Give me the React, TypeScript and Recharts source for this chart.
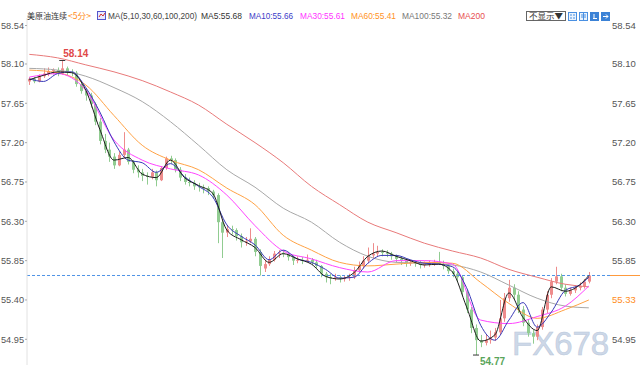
import { Bar, ComposedChart, Line, ReferenceDot, ReferenceLine, XAxis, YAxis } from "recharts";

// open, high, low, close per 5-minute bar
const candles: [number, number, number, number][] = [
  [57.9, 57.95, 57.86, 57.93], [57.93, 57.95, 57.88, 57.9], [57.9, 57.98, 57.89, 57.96], [57.96, 58.05, 57.94, 57.99],
  [57.99, 58.06, 57.96, 58.02], [58.02, 58.05, 57.98, 58.03], [58.03, 58.06, 57.96, 57.99], [57.99, 58.14, 57.98, 58.05],
  [58.05, 58.07, 57.97, 58.01], [58.01, 58.04, 57.96, 58.0], [58.0, 58.02, 57.84, 57.87], [57.87, 57.9, 57.76, 57.79],
  [57.79, 57.82, 57.68, 57.74], [57.74, 57.77, 57.6, 57.64], [57.64, 57.66, 57.4, 57.44], [57.44, 57.48, 57.18, 57.22],
  [57.22, 57.3, 57.08, 57.12], [57.12, 57.2, 56.98, 57.04], [57.04, 57.08, 56.9, 56.94], [56.94, 57.1, 56.93, 57.06],
  [57.06, 57.32, 57.02, 57.12], [57.12, 57.14, 56.95, 56.98], [56.98, 57.0, 56.85, 56.89], [56.89, 56.94, 56.8, 56.86],
  [56.86, 56.9, 56.76, 56.82], [56.82, 56.86, 56.72, 56.81], [56.81, 56.9, 56.78, 56.86], [56.86, 56.88, 56.7, 56.77],
  [56.77, 56.93, 56.76, 56.91], [56.91, 57.04, 56.89, 57.02], [57.02, 57.05, 56.96, 57.0], [57.0, 57.02, 56.86, 56.89],
  [56.89, 56.92, 56.76, 56.8], [56.8, 56.84, 56.72, 56.75], [56.75, 56.8, 56.7, 56.74], [56.74, 56.77, 56.66, 56.7],
  [56.7, 56.74, 56.64, 56.69], [56.69, 56.72, 56.62, 56.68], [56.68, 56.7, 56.6, 56.64], [56.64, 56.66, 56.56, 56.6],
  [56.6, 56.62, 56.05, 56.29], [56.29, 56.32, 55.88, 56.17], [56.17, 56.26, 56.12, 56.21], [56.21, 56.25, 56.15, 56.2],
  [56.2, 56.22, 56.08, 56.13], [56.13, 56.16, 56.0, 56.06], [56.06, 56.12, 56.02, 56.07], [56.07, 56.22, 56.05, 56.1],
  [56.1, 56.12, 55.9, 55.95], [55.95, 55.98, 55.68, 55.79], [55.76, 55.86, 55.72, 55.81], [55.81, 55.9, 55.79, 55.86],
  [55.86, 55.96, 55.84, 55.93], [55.93, 55.97, 55.88, 55.94], [55.94, 55.97, 55.89, 55.93], [55.93, 55.95, 55.85, 55.89],
  [55.89, 55.91, 55.8, 55.85], [55.85, 55.9, 55.82, 55.86], [55.86, 55.89, 55.81, 55.85], [55.85, 55.92, 55.83, 55.86],
  [55.86, 55.88, 55.8, 55.83], [55.83, 55.86, 55.76, 55.79], [55.79, 55.8, 55.66, 55.7], [55.7, 55.72, 55.6, 55.66],
  [55.66, 55.7, 55.58, 55.65], [55.65, 55.7, 55.62, 55.66], [55.66, 55.68, 55.6, 55.64], [55.64, 55.68, 55.61, 55.65],
  [55.65, 55.7, 55.62, 55.66], [55.66, 55.78, 55.64, 55.74], [55.74, 55.84, 55.72, 55.79], [55.79, 55.9, 55.76, 55.85],
  [55.85, 56.0, 55.82, 55.91], [55.91, 56.05, 55.88, 55.93], [55.93, 56.02, 55.9, 55.95], [55.95, 55.98, 55.9, 55.94],
  [55.94, 55.97, 55.89, 55.93], [55.93, 55.95, 55.86, 55.9], [55.9, 55.92, 55.83, 55.87], [55.87, 55.9, 55.8, 55.85],
  [55.85, 55.88, 55.78, 55.82], [55.82, 55.86, 55.79, 55.83], [55.83, 55.85, 55.78, 55.82], [55.82, 55.85, 55.76, 55.8],
  [55.8, 55.84, 55.77, 55.81], [55.81, 55.85, 55.78, 55.82], [55.82, 55.86, 55.79, 55.83], [55.83, 55.95, 55.8, 55.81],
  [55.81, 55.85, 55.75, 55.79], [55.79, 55.81, 55.7, 55.73], [55.73, 55.76, 55.66, 55.7], [55.7, 55.73, 55.6, 55.66],
  [55.66, 55.68, 55.45, 55.49], [55.49, 55.52, 55.25, 55.29], [55.29, 55.32, 55.02, 55.08], [55.08, 55.12, 54.77, 54.94],
  [54.94, 55.0, 54.86, 54.91], [54.91, 55.0, 54.88, 54.94], [54.94, 55.05, 54.9, 54.97], [54.97, 55.08, 54.93, 55.03],
  [55.03, 55.4, 55.0, 55.19], [55.19, 55.48, 55.15, 55.42], [55.42, 55.63, 55.38, 55.54], [55.54, 55.58, 55.4, 55.46],
  [55.46, 55.5, 55.25, 55.29], [55.29, 55.33, 55.1, 55.14], [55.14, 55.18, 54.98, 55.02], [55.02, 55.06, 54.9, 54.98],
  [54.98, 55.12, 54.94, 55.09], [55.09, 55.32, 55.06, 55.29], [55.29, 55.5, 55.25, 55.46], [55.46, 55.65, 55.42, 55.61],
  [55.61, 55.78, 55.58, 55.67], [55.67, 55.7, 55.5, 55.54], [55.54, 55.58, 55.44, 55.47], [55.47, 55.54, 55.45, 55.51],
  [55.51, 55.57, 55.48, 55.54], [55.54, 55.6, 55.51, 55.56], [55.56, 55.64, 55.53, 55.61], [55.61, 55.72, 55.59, 55.68],
];

const fastIdx = [0, 3, 6, 9, 12, 15, 18, 21, 24, 27, 30, 33, 36, 39, 42, 45, 48, 51, 54, 57, 60, 63, 66, 69, 72, 75, 78, 81, 84, 87, 90, 93, 96, 99, 102, 105, 108, 111, 114, 117, 119];
const ma5 = [57.92, 57.97, 58.01, 58.0, 57.8, 57.35, 57.0, 57.03, 56.84, 56.8, 57.0, 56.8, 56.71, 56.62, 56.2, 56.09, 56.0, 55.83, 55.93, 55.87, 55.81, 55.67, 55.64, 55.71, 55.9, 55.96, 55.9, 55.85, 55.8, 55.81, 55.72, 55.32, 54.93, 55.0, 55.48, 55.2, 55.05, 55.55, 55.5, 55.57, 55.68];
const ma10 = [57.93, 57.9, 57.99, 58.01, 57.83, 57.55, 57.21, 57.0, 56.97, 56.86, 56.96, 56.81, 56.7, 56.58, 56.26, 56.13, 56.03, 55.86, 55.97, 55.87, 55.83, 55.75, 55.65, 55.66, 55.82, 55.91, 55.91, 55.86, 55.82, 55.81, 55.78, 55.54, 55.11, 54.94, 55.17, 55.37, 55.09, 55.26, 55.51, 55.57, 55.66];

const slowIdx = [0, 6, 12, 18, 24, 30, 36, 42, 48, 54, 60, 66, 72, 78, 84, 90, 96, 102, 108, 114, 119];
const ma30 = [57.95, 57.99, 57.8, 57.23, 57.0, 56.9, 56.83, 56.6, 56.25, 55.96, 55.87, 55.77, 55.72, 55.85, 55.85, 55.81, 55.17, 55.13, 55.21, 55.33, 55.56];
const ma60 = [58.03, 58.0, 57.86, 57.51, 57.17, 57.0, 56.89, 56.68, 56.49, 56.14, 55.97, 55.83, 55.79, 55.81, 55.83, 55.82, 55.6, 55.36, 55.19, 55.29, 55.4];
const ma100 = [58.05, 58.03, 57.96, 57.83, 57.67, 57.44, 57.17, 56.89, 56.69, 56.45, 56.29, 56.06, 55.9, 55.83, 55.82, 55.8, 55.72, 55.57, 55.42, 55.33, 55.31];
const ma200 = [58.21, 58.17, 58.09, 58.01, 57.91, 57.78, 57.63, 57.41, 57.2, 56.97, 56.7, 56.49, 56.29, 56.17, 56.05, 55.96, 55.88, 55.75, 55.66, 55.58, 55.55];

const yTicks = [58.54, 58.1, 57.65, 57.2, 56.75, 56.3, 55.85, 55.4, 54.95];
const lastPrice = 55.68;
const highIdx = 7;
const lowIdx = 95;
const SLOTS = 124;

const UP = "#ee8c8c";
const DOWN = "#91cc91";
const FONT = "'Liberation Sans', Arial, sans-serif";
const CJK = "'Noto Sans CJK SC', sans-serif";

const rows: Record<string, any>[] = Array.from({ length: SLOTS }, (_, i) => {
  const c = candles[i];
  return c ? { i, o: c[0], h: c[1], l: c[2], c: c[3], range: [c[2], c[1]] } : { i };
});
fastIdx.forEach((idx, k) => {
  rows[idx].ma5 = ma5[k];
  rows[idx].ma10 = ma10[k];
});
slowIdx.forEach((idx, k) => {
  rows[idx].ma30 = ma30[k];
  rows[idx].ma60 = ma60[k];
  rows[idx].ma100 = ma100[k];
  rows[idx].ma200 = ma200[k];
});

function CandleShape(props: any) {
  const { x, y, width, height, payload } = props;
  if (!payload || payload.o == null) return null;
  const { o, h, l, c } = payload;
  const yHigh = Math.min(y, y + height);
  const yLow = Math.max(y, y + height);
  const span = h - l || 1;
  const py = (v: number) => yHigh + ((h - v) / span) * (yLow - yHigh);
  const cx = Math.round(x + width / 2) + 0.5;
  const color = c >= o ? UP : DOWN;
  const top = py(Math.max(o, c));
  const bot = py(Math.min(o, c));
  return (
    <g>
      <line x1={cx} x2={cx} y1={yHigh} y2={yLow} stroke={color} strokeWidth={1} />
      <rect x={cx - 1.5} y={top} width={3} height={Math.max(1, bot - top)} fill={color} />
    </g>
  );
}

function LeftTick({ x, y, payload }: any) {
  return (
    <text x={x} y={y} dy={3.3} textAnchor="end" fontSize={9.2} fontFamily={FONT} fill="#555">
      {payload.value.toFixed(2)}
    </text>
  );
}

function RightTick({ x, y, payload }: any) {
  const hl = payload.value === 55.4;
  return (
    <text x={x} y={y} dy={3.3} textAnchor="start" fontSize={9.5} fontFamily={FONT} fill={hl ? "#ff8c1a" : "#555"}>
      {hl ? "55.33" : payload.value.toFixed(2)}
    </text>
  );
}

function Header() {
  // x start, text, colour, width
  const items: [number, string, string, number][] = [
    [108, "MA(5,10,30,60,100,200)", "#444", 89],
    [201, "MA5:55.68", "#333", 41],
    [249, "MA10:55.66", "#3c3cc8", 44],
    [300, "MA30:55.61", "#ff33ff", 45],
    [351, "MA60:55.41", "#ff9224", 45],
    [402, "MA100:55.32", "#777", 50],
    [458, "MA200", "#e85050", 27],
  ];
  return (
    <svg width={640} height={24} style={{ position: "absolute", left: 0, top: 0 }}>
      <text x={27} y={19} fontSize={8.2} fontFamily={CJK} fill="#333" textLength={40} lengthAdjust="spacingAndGlyphs">
        美原油连续
      </text>
      <text x={68} y={19} fontSize={8.5} fontFamily={CJK} fill="#ff8c1a" textLength={23} lengthAdjust="spacingAndGlyphs">
        &lt;5分&gt;
      </text>
      <rect x={97.5} y={11.5} width={8} height={8} fill="#e9e9ff" stroke="#5555cc" />
      <polyline points="99,17 101,14 103,16 105,13" fill="none" stroke="#d03030" strokeWidth={1} />
      {items.map(([x, t, col, w]) => (
        <text key={t} x={x} y={19} fontSize={9} fontFamily={FONT} fill={col} textLength={w} lengthAdjust="spacingAndGlyphs">
          {t}
        </text>
      ))}
      <rect x={526.5} y={11.5} width={39} height={9} fill="#fff" stroke="#666" />
      <text x={529} y={19} fontSize={8} fontFamily={CJK} fill="#333" textLength={34} lengthAdjust="spacingAndGlyphs">
        不显示▼
      </text>
      <rect x={568.5} y={12.5} width={8} height={8} fill="#eaf3fd" stroke="#4a90e2" />
      <path d="M570,15 h2 M573,15 h2 M570,18 h2 M573,18 h2" stroke="#4a90e2" strokeWidth={1} />
      <rect x={579.5} y={12.5} width={8} height={8} fill="#eaf3fd" stroke="#4a90e2" />
      <path d="M581,15 h5 M581,17 h5 M583.5,13 v7" stroke="#4a90e2" strokeWidth={1} />
      <rect x={590.5} y={12.5} width={8} height={8} fill="#3b82d6" stroke="#3b82d6" />
      <rect x={601.5} y={12.5} width={8} height={8} fill="#3b82d6" stroke="#3b82d6" />
      <path d="M593,18.5 h4 M594,14 v4.5" stroke="#fff" strokeWidth={1} />
      <path d="M603,16.5 h5 M606,14.5 l2,2 l-2,2" stroke="#fff" strokeWidth={1} fill="none" />
    </svg>
  );
}

export default function App() {
  return (
    <div style={{ position: "absolute", left: 0, top: 0, width: 640, height: 380, background: "#fff" }}>
      <ComposedChart width={640} height={380} data={rows} margin={{ top: 18, right: 0, bottom: 15, left: 0 }}>
        <XAxis dataKey="i" hide />
        <YAxis
          yAxisId="L"
          orientation="left"
          width={27}
          type="number"
          domain={[54.656, 58.626]}
          allowDataOverflow
          ticks={yTicks}
          interval={0}
          tick={<LeftTick />}
          tickSize={2}
          tickMargin={1}
          axisLine={{ stroke: "#e2e2e2" }}
          tickLine={{ stroke: "#aaa" }}
        />
        <YAxis
          yAxisId="R"
          orientation="right"
          width={30}
          type="number"
          domain={[54.656, 58.626]}
          allowDataOverflow
          ticks={yTicks}
          interval={0}
          tick={<RightTick />}
          tickSize={2}
          tickMargin={0}
          axisLine={false}
          tickLine={false}
        />
        <ReferenceLine yAxisId="L" y={lastPrice} stroke="#4f93e6" strokeDasharray="3 2" />
        <Bar yAxisId="L" dataKey="range" shape={(p: any) => <CandleShape {...p} />} isAnimationActive={false} />
        <Line yAxisId="L" dataKey="ma200" type="monotone" stroke="#e87a7a" strokeWidth={1} dot={false} connectNulls isAnimationActive={false} />
        <Line yAxisId="L" dataKey="ma100" type="monotone" stroke="#a8a8a8" strokeWidth={1} dot={false} connectNulls isAnimationActive={false} />
        <Line yAxisId="L" dataKey="ma60" type="monotone" stroke="#ffa245" strokeWidth={1} dot={false} connectNulls isAnimationActive={false} />
        <Line yAxisId="L" dataKey="ma30" type="monotone" stroke="#ff44ff" strokeWidth={1} dot={false} connectNulls isAnimationActive={false} />
        <Line yAxisId="L" dataKey="ma10" type="monotone" stroke="#3838b8" strokeWidth={1} dot={false} connectNulls isAnimationActive={false} />
        <Line yAxisId="L" dataKey="ma5" type="monotone" stroke="#1c1c1c" strokeWidth={1} dot={false} connectNulls isAnimationActive={false} />
        <ReferenceDot
          yAxisId="L"
          x={highIdx}
          y={candles[highIdx][1]}
          shape={(p: any) => (
            <g>
              <line x1={p.cx - 3} x2={p.cx + 3} y1={p.cy} y2={p.cy} stroke="#333" />
              <text x={p.cx + 1} y={p.cy - 3} fontSize={10} fontWeight="bold" fontFamily={FONT} fill="#e04848">
                {candles[highIdx][1].toFixed(2)}
              </text>
            </g>
          )}
        />
        <ReferenceDot
          yAxisId="L"
          x={lowIdx}
          y={candles[lowIdx][2]}
          shape={(p: any) => (
            <g>
              <line x1={p.cx - 3} x2={p.cx + 3} y1={p.cy} y2={p.cy} stroke="#333" />
              <text x={p.cx + 4} y={p.cy + 10} fontSize={10} fontWeight="bold" fontFamily={FONT} fill="#5aa55a">
                {candles[lowIdx][2].toFixed(2)}
              </text>
            </g>
          )}
        />
        <text x={512} y={355} fontSize={33} fontFamily={FONT} fill="#cdd8e8" stroke="#b9c7da" strokeWidth={0.5}>
          FX678
        </text>
      </ComposedChart>
      <div style={{ position: "absolute", left: 610, top: 275, width: 30, height: 1, background: "#ff9a3c" }} />
      <Header />
    </div>
  );
}
